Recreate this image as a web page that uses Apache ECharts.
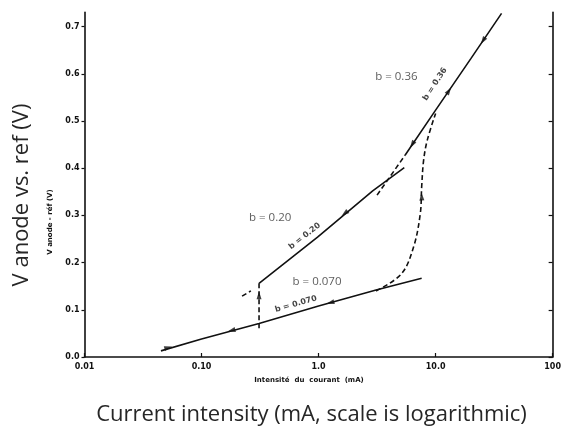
<!DOCTYPE html>
<html><head><meta charset="utf-8">
<script src="https://cdn.jsdelivr.net/npm/echarts@6/dist/echarts.min.js"></script>
<style>html,body{margin:0;padding:0;background:#fff}#c{width:564px;height:431px}</style>
</head><body><div id="c"></div>
<script>
// ---- axis ticks ----
const xTicks = [0.01, 0.1, 1, 10, 100];
const xTickLabels = ['0.01', '0.10', '1.0', '10.0', '100'];
const yTicks = [0, 0.1, 0.2, 0.3, 0.4, 0.5, 0.6, 0.7];
const yTickLabels = ['0.0', '0.1', '0.2', '0.3', '0.4', '0.5', '0.6', '0.7'];

// ---- data: [current (mA), V anode vs ref (V)] ----
const lineB070 = [[0.045, 0.013], [0.10, 0.038], [0.31, 0.071], [1.0, 0.108], [3.1, 0.142], [7.6, 0.167]];
const lineB020Dash = [[0.222, 0.129], [0.264, 0.140]];
const lineB020 = [[0.31, 0.156], [0.98, 0.254], [2.9, 0.352], [5.4, 0.401]];
const lineB036Dash = [[3.16, 0.343], [5.5, 0.428]];
const lineB036 = [[5.5, 0.428], [10, 0.523], [20, 0.632], [36.6, 0.728]];
const verticalDrop = [[0.31, 0.156], [0.31, 0.057]];
const transitionCurve = [[3.1, 0.140], [5.1, 0.176], [6.5, 0.234], [7.4, 0.304], [7.6, 0.360], [7.9, 0.417], [8.5, 0.460], [10, 0.516]];
const arrowPoints = [[0.052, 0.020], [0.18, 0.056], [1.26, 0.115], [0.31, 0.131], [1.67, 0.304], [6.3, 0.450], [7.6, 0.340], [13, 0.564], [25.4, 0.670]];
const slopeTexts = ['b = 0.36', 'b = 0.20', 'b = 0.070'];
const slopeTextPoints = [[9.9, 0.578], [0.76, 0.256], [0.64, 0.112]];
const noteTexts = ['b = 0.36', 'b = 0.20', 'b = 0.070'];
const notePoints = [[4.62, 0.593], [0.386, 0.294], [0.97, 0.159]];

// ---- styles ----
const arrowRot = [-75, 105, 105, 0, 128, 147, 3, -33, 147];
const slopeRot = [57, 38, 16];
const INK = '#111';

function lineSeries(data, dashed) {
  return {
    type: 'line', data: data, showSymbol: false, symbol: 'none', silent: true,
    smooth: false, z: 3,
    lineStyle: { color: INK, width: 1.6, type: dashed ? [5, 3] : 'solid' }
  };
}

const chart = echarts.init(document.getElementById('c'), null, { renderer: 'canvas' });
const tickFont = { fontFamily: 'DejaVu Sans', fontWeight: 'bold', fontSize: 8, color: INK };

chart.setOption({
  animation: false,
  backgroundColor: '#fff',
  grid: { left: 84.5, right: 4.5, top: 12.4, bottom: 74, containLabel: false },
  xAxis: {
    type: 'log', logBase: 10, min: 0.01, max: 100,
    axisLine: { show: true, lineStyle: { color: INK, width: 1.6 } },
    axisTick: { show: true, inside: true, length: 4, lineStyle: { color: INK, width: 1.2 } },
    axisLabel: Object.assign({
      margin: 6,
      formatter: function (v) {
        const i = xTicks.findIndex(t => Math.abs(Math.log10(t) - Math.log10(v)) < 1e-6);
        return i >= 0 ? xTickLabels[i] : '';
      }
    }, tickFont),
    splitLine: { show: false }
  },
  yAxis: [{
    type: 'value', min: 0, max: 0.73, position: 'left',
    axisLine: { show: true, lineStyle: { color: INK, width: 1.6 } },
    axisTick: { show: true, length: 3, customValues: yTicks, lineStyle: { color: INK, width: 1.2 } },
    axisLabel: Object.assign({
      margin: 5, customValues: yTicks,
      formatter: function (v) {
        const i = yTicks.findIndex(t => Math.abs(t - v) < 1e-6);
        return i >= 0 ? yTickLabels[i] : '';
      }
    }, tickFont),
    splitLine: { show: false }
  }, {
    type: 'value', min: 0, max: 0.73, position: 'right',
    axisLine: { show: true, lineStyle: { color: INK, width: 1.6 } },
    axisTick: { show: true, inside: true, length: 4, customValues: yTicks, lineStyle: { color: INK, width: 1.2 } },
    axisLabel: { show: false },
    splitLine: { show: false }
  }],
  series: [
    lineSeries(lineB070, false),
    lineSeries(lineB020Dash, true),
    lineSeries(lineB020, false),
    lineSeries(lineB036Dash, true),
    lineSeries(lineB036, false),
    lineSeries(verticalDrop, true),
    Object.assign(lineSeries(transitionCurve, true), { smooth: 0.35 }),
    {
      type: 'scatter', silent: true, z: 4,
      symbol: 'triangle', symbolSize: [5, 8],
      itemStyle: { color: INK },
      data: arrowPoints.map((p, i) => ({ value: p, symbolRotate: arrowRot[i] }))
    },
    {
      type: 'scatter', silent: true, z: 5, symbolSize: 0,
      data: slopeTextPoints.map((p, i) => ({
        value: p,
        label: {
          show: true, position: 'inside', rotate: slopeRot[i],
          formatter: slopeTexts[i],
          fontFamily: 'DejaVu Sans', fontWeight: 'bold', fontSize: 8, color: INK
        }
      }))
    },
    {
      type: 'scatter', silent: true, z: 5, symbolSize: 0,
      data: notePoints.map((p, i) => ({
        value: p,
        label: {
          show: true, position: 'inside', formatter: noteTexts[i],
          fontFamily: 'Open Sans', fontSize: 11.5, color: '#333'
        }
      }))
    }
  ],
  graphic: [
    {
      type: 'text', x: 22, y: 195, rotation: Math.PI / 2,
      style: { text: 'V anode vs. ref (V)', fontFamily: 'Open Sans', fontSize: 22, fill: '#262626', align: 'center', verticalAlign: 'middle' }
    },
    {
      type: 'text', x: 311.5, y: 415,
      style: { text: 'Current intensity (mA, scale is logarithmic)', fontFamily: 'Open Sans', fontSize: 22, fill: '#262626', align: 'center', verticalAlign: 'middle' }
    },
    {
      type: 'text', x: 50, y: 222, rotation: Math.PI / 2,
      style: { text: 'V anode - réf (V)', fontFamily: 'DejaVu Sans', fontWeight: 'bold', fontSize: 7, fill: INK, align: 'center', verticalAlign: 'middle' }
    },
    {
      type: 'text', x: 309, y: 380,
      style: { text: 'Intensité  du  courant  (mA)', fontFamily: 'DejaVu Sans', fontWeight: 'bold', fontSize: 7, fill: INK, align: 'center', verticalAlign: 'middle' }
    }
  ]
});
</script>
</body></html>
